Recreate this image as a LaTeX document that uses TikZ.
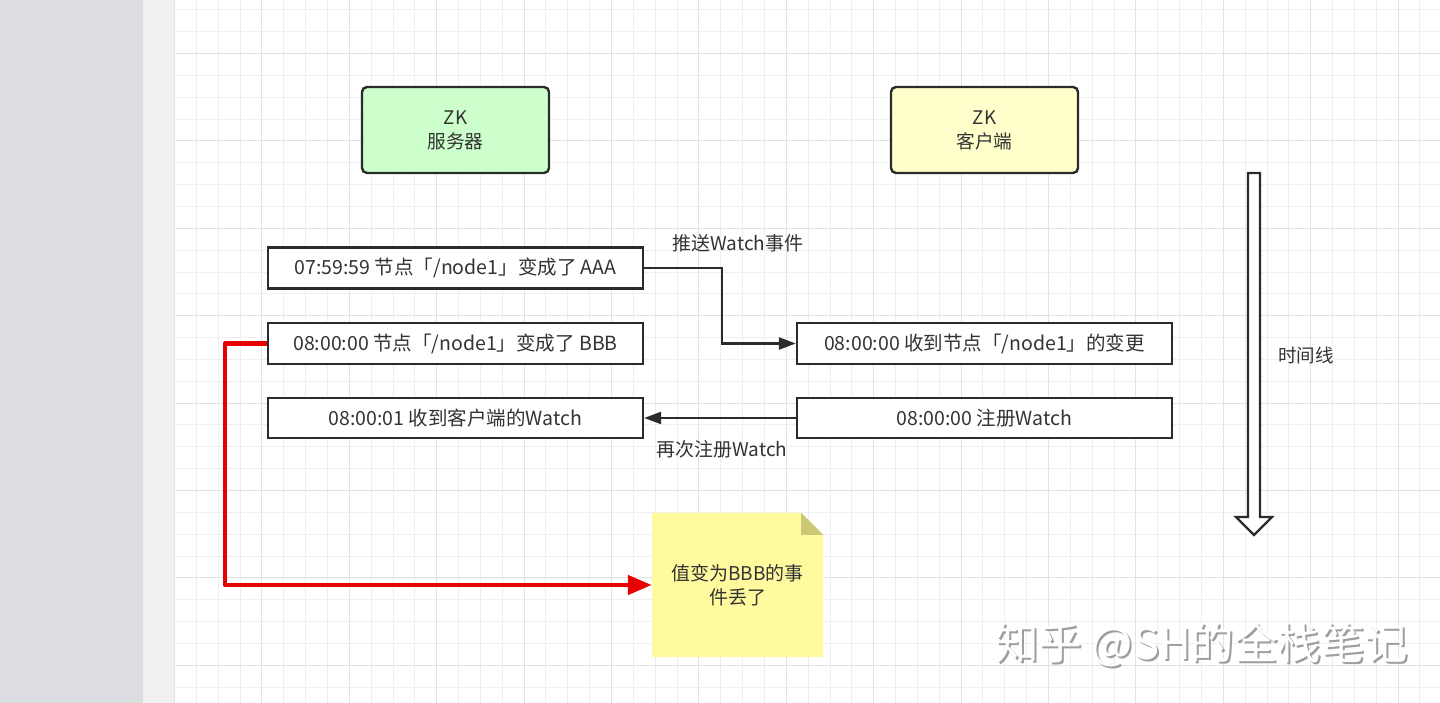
\documentclass[tikz,border=0pt]{standalone}
\usepackage{fontspec}
\setmainfont{Noto Sans CJK SC}
\usetikzlibrary{arrows.meta}
\definecolor{txt}{HTML}{333333}
\definecolor{edge}{HTML}{2B2B2B}
\definecolor{srvfill}{HTML}{CCFFCC}
\definecolor{clifill}{HTML}{FFFFCC}
\definecolor{notefill}{HTML}{FFFA9E}
\definecolor{foldfill}{HTML}{CCC677}
\definecolor{gridminor}{HTML}{EFEFEF}
\definecolor{gridmajor}{HTML}{E2E2E2}
\definecolor{sidegray}{HTML}{DCDDE1}
\definecolor{stripgray}{HTML}{F1F1F1}
\definecolor{redline}{HTML}{E60000}
\pgfdeclarelayer{gridlayer}
\pgfdeclarelayer{bglayer}
\pgfsetlayers{gridlayer,bglayer,main}
\tikzset{
  hdrbox/.style={draw=edge, line width=2.4pt, rounded corners=5pt, minimum width=187pt, minimum height=86pt, align=center, text=txt, font=\fontsize{18.7}{24}\selectfont},
  evbox/.style={draw=edge, line width=2.4pt, fill=white, minimum width=375pt, minimum height=41pt, text=txt, font=\fontsize{19.5}{22}\selectfont, inner sep=0pt},
  lbl/.style={text=txt, font=\fontsize{19}{22}\selectfont, inner sep=0pt},
  conn/.style={draw=edge, line width=2.4pt, -{Triangle[length=17pt,width=12pt]}},
  redconn/.style={draw=redline, line width=4.5pt, line join=round, -{Triangle[length=24pt,width=19pt]}},
  notebox/.style={minimum width=171pt, minimum height=144pt, align=center, text=txt, font=\fontsize{19}{24}\selectfont, inner sep=0pt},
  wm/.style={font=\fontsize{43.5}{44}\selectfont, inner sep=0pt, anchor=west}
}
\begin{document}
\begin{tikzpicture}[x=1pt,y=-1pt]
\useasboundingbox (0,0) rectangle (1440,703);
\begin{pgfonlayer}{gridlayer}
  \fill[white] (0,0) rectangle (1440,703);
  \fill[sidegray] (0,0) rectangle (143,703);
  \fill[stripgray] (143,0) rectangle (174,703);
  \foreach \i in {0,...,58} {\draw[gridminor, line width=1pt] ({round(174+\i*21.85)+0.5},0) -- ({round(174+\i*21.85)+0.5},703);}
  \foreach \i in {0,...,33} {\draw[gridminor, line width=1pt] (174,{round(9.3+\i*21.85)+0.5}) -- (1440,{round(9.3+\i*21.85)+0.5});}
  \foreach \i in {0,...,15} {\draw[gridmajor, line width=1pt] ({round(174+\i*87.4)+0.5},0) -- ({round(174+\i*87.4)+0.5},703);}
  \foreach \i in {0,...,8} {\draw[gridmajor, line width=1pt] (174,{round(53+\i*87.4)+0.5}) -- (1440,{round(53+\i*87.4)+0.5});}
\end{pgfonlayer}

% header boxes
\node[hdrbox, fill=srvfill] (server) at (455.5,130) {ZK\\服务器};
\node[hdrbox, fill=clifill] (client) at (984.5,130) {ZK\\客户端};

% event boxes
\node[evbox] (A) at (455.5,268) {07:59:59 节点「/node1」变成了 AAA};
\node[evbox] (B) at (455.5,343.5) {08:00:00 节点「/node1」变成了 BBB};
\node[evbox, minimum height=40pt] (C) at (455.5,418) {08:00:01 收到客户端的Watch};
\node[evbox] (D) at (984.5,343.5) {08:00:00 收到节点「/node1」的变更};
\node[evbox, minimum height=40pt] (E) at (984.5,418) {08:00:00 注册Watch};

% connectors
\draw[conn] (A.east) -- ++(78,0) |- (D.west);
\node[lbl] (lpush) at (738,243) {推送Watch事件};
\draw[conn] (E.west) -- (C.east);
\node[lbl] (lreg) at (722,449) {再次注册Watch};

% note
\node[notebox] (note) at (737.5,585) {值变为BBB的事\\件丢了};
\begin{pgfonlayer}{bglayer}
  \fill[notefill] (note.south west) -- (note.north west) -- ([xshift=-22pt]note.north east) -- ([yshift=-22pt]note.north east) -- (note.south east) -- cycle;
  \fill[foldfill] ([xshift=-22pt]note.north east) -- ([xshift=-22pt,yshift=-22pt]note.north east) -- ([yshift=-22pt]note.north east) -- cycle;
\end{pgfonlayer}
\draw[redconn] (B.west) -- ++(-42,0) |- (note.west);

% timeline block arrow
\draw[edge, line width=2.4pt, fill=white, line join=miter]
  (1248,173) -- (1260,173) -- (1260,517) -- (1272,517) -- (1254,535) -- (1236,517) -- (1248,517) -- cycle;
\node[lbl, font=\fontsize{18.5}{22}\selectfont] (ltime) at (1306,355) {时间线};

% watermark
\node[wm, text=black!38] (wms) at (997,646.5) {知乎 @SH的全栈笔记};
\node[wm, text=white] (wmt) at (995,644.5) {知乎 @SH的全栈笔记};
\end{tikzpicture}
\end{document}
